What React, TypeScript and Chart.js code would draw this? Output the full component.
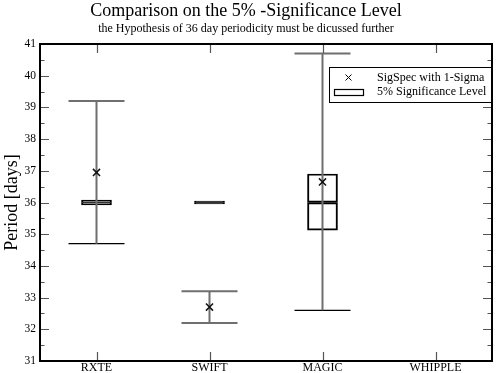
import { useEffect, useRef } from "react";
import { Chart, registerables } from "chart.js";

Chart.register(...registerables);

const titleText = "Comparison on the 5% -Significance Level";
const subtitleText = "the Hypothesis of 36 day periodicity must be dicussed further";
const yTitle = "Period [days]";
const categories = ["RXTE", "SWIFT", "MAGIC", "WHIPPLE"];
const sigSpec: (number | null)[] = [36.95, 32.7, 36.65, null];
const whiskerLow: (number | null)[] = [34.7, 32.2, 32.6, null];
const whiskerHigh: (number | null)[] = [39.2, 33.2, 40.7, null];
const boxLow: (number | null)[] = [35.92, 35.955, 35.13, null];
const boxMedian: (number | null)[] = [36.0, 36.0, 36.0, null];
const boxHigh: (number | null)[] = [36.08, 36.045, 36.9, null];
const yMin = 31;
const yMax = 41;
const legendLabels = ["SigSpec with 1-Sigma", "5% Significance Level"];

const SERIF = '"Liberation Serif", "DejaVu Serif", "Times New Roman", serif';
const GRAY = "#6f6f6f";
const CLEAR = "rgba(0,0,0,0)";

const idx = categories.map((_, i) => i);
const present = idx.filter((i) => whiskerLow[i] != null);

const framePlugin = {
  id: "frameTicks",
  afterDatasetsDraw(chart: any) {
    const { ctx, chartArea: a } = chart;
    const ys = chart.scales.y;
    const xs = chart.scales.x;
    ctx.save();
    ctx.strokeStyle = "#555";
    ctx.lineWidth = 1.2;
    ctx.beginPath();
    for (let v = yMin; v <= yMax + 1e-9; v += 0.5) {
      const p = Math.round(ys.getPixelForValue(v)) + 0.5;
      const len = Math.abs(v - Math.round(v)) < 1e-6 ? 9 : 4.5;
      ctx.moveTo(a.left, p);
      ctx.lineTo(a.left + len, p);
      ctx.moveTo(a.right, p);
      ctx.lineTo(a.right - len, p);
    }
    idx.forEach((i) => {
      const p = Math.round(xs.getPixelForValue(i + 1)) + 0.5;
      ctx.moveTo(p, a.top);
      ctx.lineTo(p, a.top + 9);
      ctx.moveTo(p, a.bottom);
      ctx.lineTo(p, a.bottom - 9);
    });
    ctx.stroke();
    ctx.strokeStyle = "#000";
    ctx.lineWidth = 2;
    ctx.strokeRect(a.left, a.top, a.right - a.left, a.bottom - a.top);
    ctx.restore();
  },
  afterDraw(chart: any) {
    const { ctx, chartArea: a } = chart;
    const w = 163;
    const h = 36;
    const lx = a.right - w;
    const ly = a.top + 23;
    ctx.save();
    ctx.fillStyle = "#fff";
    ctx.fillRect(lx, ly, w, h);
    ctx.strokeStyle = "#000";
    ctx.lineWidth = 1;
    ctx.strokeRect(lx + 0.5, ly + 0.5, w - 1, h - 1);
    const cx = lx + 19.5;
    const cy = ly + 10.5;
    ctx.beginPath();
    ctx.moveTo(cx - 3, cy - 3);
    ctx.lineTo(cx + 3, cy + 3);
    ctx.moveTo(cx + 3, cy - 3);
    ctx.lineTo(cx - 3, cy + 3);
    ctx.stroke();
    ctx.lineWidth = 1.2;
    ctx.strokeRect(lx + 5.5, ly + 22.5, 29, 6);
    ctx.fillStyle = "#000";
    ctx.font = `12px ${SERIF}`;
    ctx.textBaseline = "middle";
    ctx.textAlign = "left";
    ctx.fillText(legendLabels[0], lx + 48, ly + 10.5);
    ctx.fillText(legendLabels[1], lx + 48, ly + 25);
    ctx.restore();
  },
};

export default function App() {
  const ref = useRef<HTMLCanvasElement>(null);
  useEffect(() => {
    if (!ref.current) return;
    const whiskerData: any[] = [];
    present.forEach((i) => {
      whiskerData.push({ x: i + 1, y: whiskerLow[i] });
      whiskerData.push({ x: i + 1, y: whiskerHigh[i] });
      whiskerData.push({ x: i + 1.5, y: null });
    });
    const boxStyle = {
      type: "bar",
      backgroundColor: [CLEAR, "#000", CLEAR],
      borderColor: "#000",
      borderWidth: 1.3,
      borderSkipped: false,
      barThickness: 30,
      grouped: false,
      order: 3,
    };
    const chart = new Chart(ref.current, {
      type: "bar",
      data: {
        datasets: [
          {
            type: "line",
            label: legendLabels[0],
            data: present.map((i) => ({ x: i + 1, y: sigSpec[i] })),
            showLine: false,
            pointStyle: "crossRot",
            pointRadius: 5,
            pointBorderWidth: 1.5,
            pointBorderColor: "#111",
            pointBackgroundColor: "#111",
            order: 0,
          } as any,
          {
            type: "line",
            label: "whisker",
            data: whiskerData,
            borderColor: GRAY,
            borderWidth: 2,
            pointRadius: 0,
            spanGaps: false,
            order: 1,
          } as any,
          {
            type: "line",
            label: "upper cap",
            data: present.map((i) => ({ x: i + 1, y: whiskerHigh[i] })),
            showLine: false,
            pointStyle: "line",
            pointRadius: 28,
            pointBorderWidth: 2,
            pointBorderColor: GRAY,
            order: 2,
          } as any,
          {
            type: "line",
            label: "lower cap",
            data: present.map((i) => ({ x: i + 1, y: whiskerLow[i] })),
            showLine: false,
            pointStyle: "line",
            pointRadius: 28,
            pointBorderWidth: [1.3, 2, 1.3],
            pointBorderColor: ["#000", GRAY, "#000"],
            order: 2,
          } as any,
          {
            ...boxStyle,
            label: legendLabels[1],
            data: present.map((i) => ({ x: i + 1, y: [boxLow[i], boxMedian[i]] })),
          } as any,
          {
            ...boxStyle,
            label: "box upper",
            data: present.map((i) => ({ x: i + 1, y: [boxMedian[i], boxHigh[i]] })),
          } as any,
        ],
      },
      options: {
        responsive: false,
        animation: false,
        events: [],
        devicePixelRatio: 1,
        layout: { autoPadding: false, padding: { left: 0, right: 5, top: 0, bottom: 0 } },
        plugins: {
          legend: { display: false },
          tooltip: { enabled: false },
          title: {
            display: true,
            text: titleText,
            color: "#000",
            font: { family: SERIF, size: 18, weight: "normal" as any },
            padding: { top: 0, bottom: 0 },
          },
          subtitle: {
            display: true,
            text: subtitleText,
            color: "#000",
            font: { family: SERIF, size: 12, weight: "normal" as any },
            padding: { top: 0, bottom: 8 },
          },
        },
        scales: {
          x: {
            type: "linear",
            min: 0.5,
            max: categories.length + 0.5,
            offset: false,
            grid: { display: false, drawTicks: false },
            border: { display: false },
            afterBuildTicks: (s: any) => {
              s.ticks = categories.map((_, i) => ({ value: i + 1 }));
            },
            afterFit: (s: any) => {
              s.height = 12;
            },
            ticks: {
              autoSkip: false,
              maxRotation: 0,
              padding: 0,
              color: "#000",
              font: { family: SERIF, size: 12 },
              callback: (v: any) => categories[Math.round(Number(v)) - 1] ?? "",
            },
          },
          y: {
            type: "linear",
            min: yMin,
            max: yMax,
            grid: { display: false, drawTicks: false },
            border: { display: false },
            afterFit: (s: any) => {
              s.width = 40;
            },
            ticks: {
              stepSize: 1,
              padding: 4,
              color: "#000",
              font: { family: SERIF, size: 11.5 },
            },
            title: {
              display: true,
              text: yTitle,
              color: "#000",
              font: { family: SERIF, size: 18 },
              padding: { top: 1, bottom: 0 },
            },
          },
        },
      },
      plugins: [framePlugin],
    });
    return () => chart.destroy();
  }, []);
  return (
    <div style={{ position: "fixed", left: 0, top: 0, width: 497, height: 373, background: "#fff" }}>
      <canvas ref={ref} width={497} height={373} style={{ display: "block", width: 497, height: 373 }} />
    </div>
  );
}
